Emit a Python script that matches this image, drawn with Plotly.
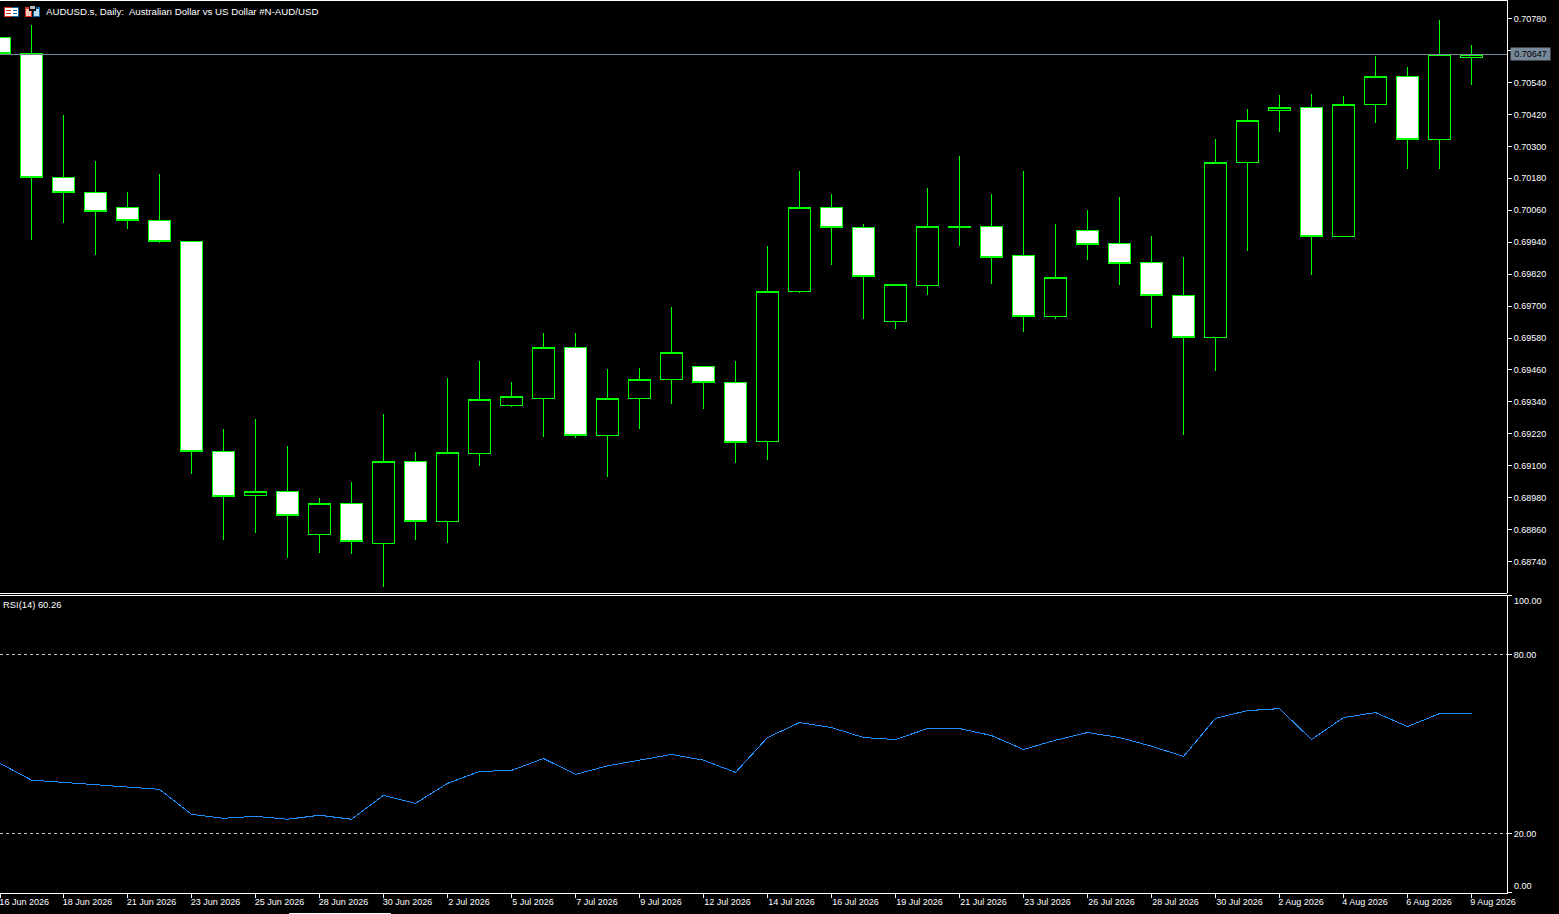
import plotly.graph_objects as go
from plotly.subplots import make_subplots

# bar index for each candle
bars = list(range(47))

opens = [0.70710, 0.70650, 0.70184, 0.70128, 0.70072, 0.70023, 0.69944, 0.69154, 0.68989, 0.69004,
         0.68842, 0.68959, 0.68808, 0.69117, 0.68891, 0.69147, 0.69327, 0.69353, 0.69546, 0.69214,
         0.69353, 0.69425, 0.69474, 0.69414, 0.69192, 0.69755, 0.70072, 0.69996, 0.69643, 0.69778,
         0.69999, 0.70000, 0.69891, 0.69661, 0.69985, 0.69936, 0.69865, 0.69740, 0.69583, 0.70240,
         0.70436, 0.70447, 0.69963, 0.70459, 0.70564, 0.70327, 0.70635]
highs = [0.70736, 0.70755, 0.70417, 0.70244, 0.70128, 0.70195, 0.69944, 0.69237, 0.69274, 0.69173,
         0.68978, 0.69038, 0.69293, 0.69150, 0.69429, 0.69493, 0.69414, 0.69598, 0.69598, 0.69463,
         0.69466, 0.69695, 0.69474, 0.69493, 0.69925, 0.70206, 0.70121, 0.70008, 0.69782, 0.70143,
         0.70263, 0.70121, 0.70206, 0.70008, 0.70060, 0.70109, 0.69963, 0.69883, 0.70327, 0.70440,
         0.70493, 0.70496, 0.70489, 0.70639, 0.70598, 0.70774, 0.70680]
lows = [0.70624, 0.69947, 0.70012, 0.69891, 0.69989, 0.69936, 0.69071, 0.68823, 0.68846, 0.68752,
        0.68774, 0.68767, 0.68643, 0.68820, 0.68808, 0.69098, 0.69320, 0.69210, 0.69203, 0.69056,
        0.69240, 0.69331, 0.69312, 0.69109, 0.69120, 0.69748, 0.69853, 0.69651, 0.69613, 0.69740,
        0.69925, 0.69782, 0.69602, 0.69651, 0.69872, 0.69778, 0.69617, 0.69214, 0.69455, 0.69906,
        0.70353, 0.69816, 0.69959, 0.70387, 0.70214, 0.70214, 0.70530]
closes = [0.70650, 0.70184, 0.70128, 0.70057, 0.70023, 0.69944, 0.69154, 0.68985, 0.69004, 0.68914,
          0.68959, 0.68816, 0.69117, 0.68891, 0.69150, 0.69350, 0.69361, 0.69546, 0.69214, 0.69353,
          0.69425, 0.69527, 0.69414, 0.69188, 0.69755, 0.70072, 0.69996, 0.69812, 0.69782, 0.70000,
          0.69996, 0.69883, 0.69661, 0.69808, 0.69932, 0.69861, 0.69740, 0.69583, 0.70240, 0.70398,
          0.70447, 0.69963, 0.70459, 0.70564, 0.70327, 0.70647, 0.70647]

rsi = [43.58, 37.89, 37.12, 36.32, 35.65, 34.78, 26.42, 25.08, 25.75, 24.75,
       26.09, 24.75, 32.78, 30.10, 36.79, 40.80, 41.14, 45.15, 39.80, 42.68,
       44.58, 46.49, 44.58, 40.47, 52.17, 57.19, 55.52, 52.17, 51.51, 55.18,
       55.18, 52.84, 48.16, 51.27, 53.85, 52.17, 49.26, 45.82, 58.63, 61.20,
       61.87, 51.51, 58.86, 60.54, 55.85, 60.20, 60.26]

price_ticks = [0.70780, 0.70660, 0.70540, 0.70420, 0.70300, 0.70180, 0.70060, 0.69940, 0.69820,
               0.69700, 0.69580, 0.69460, 0.69340, 0.69220, 0.69100, 0.68980, 0.68860, 0.68740]
rsi_ticks = [0.2, 20, 80, 100]
rsi_labels = ['', '20.00', '80.00', '']
date_ticks = [0.02, 2, 4, 6, 8, 10, 12, 14, 16, 18, 20, 22, 24, 26, 28, 30, 32, 34, 36, 38, 40, 42, 44, 46]
date_labels = ['16 Jun 2026', '18 Jun 2026', '21 Jun 2026', '23 Jun 2026', '25 Jun 2026', '28 Jun 2026',
               '30 Jun 2026', '2 Jul 2026', '5 Jul 2026', '7 Jul 2026', '9 Jul 2026', '12 Jul 2026',
               '14 Jul 2026', '16 Jul 2026', '19 Jul 2026', '21 Jul 2026', '23 Jul 2026', '26 Jul 2026',
               '28 Jul 2026', '30 Jul 2026', '2 Aug 2026', '4 Aug 2026', '6 Aug 2026', '9 Aug 2026']

W, H = 1559, 914
FONT = 'Liberation Sans, sans-serif'
AXIS_SIZE = 9
GREEN = '#00FF00'
TAG = '#778899'

fig = make_subplots(rows=2, cols=1, shared_xaxes=True)

fig.add_trace(go.Candlestick(
    x=bars, open=opens, high=highs, low=lows, close=closes,
    whiskerwidth=0, hoverinfo='skip',
    increasing=dict(line=dict(color=GREEN, width=1), fillcolor='#000000'),
    decreasing=dict(line=dict(color=GREEN, width=1), fillcolor='#FFFFFF'),
), row=1, col=1)

fig.add_trace(go.Scatter(x=bars, y=rsi, mode='lines', hoverinfo='skip',
                         line=dict(color='#1E90FF', width=1)), row=2, col=1)

# current price line and RSI levels
fig.add_hline(y=closes[-1], line=dict(color=TAG, width=1), row=1, col=1)
for level in (80, 20):
    fig.add_hline(y=level, line=dict(color='#C0C0C0', width=1, dash='3px,3px'), row=2, col=1)

fig.update_layout(
    width=W, height=H, autosize=False, showlegend=False,
    margin=dict(l=0, r=0, t=0, b=0),
    paper_bgcolor='#000000', plot_bgcolor='#000000',
    font=dict(family=FONT, size=AXIS_SIZE, color='#FFFFFF'),
    boxgap=0.3125, boxgroupgap=0,
)

axis_right = 1507 / W
fig.update_xaxes(range=[0.015625, 47.109], domain=[0, axis_right], showgrid=False, zeroline=False,
                 rangeslider_visible=False, automargin=False)
fig.update_xaxes(showticklabels=False, ticks='', row=1, col=1)
fig.update_xaxes(tickmode='array', tickvals=date_ticks,
                 # figure space keeps one digit days as wide as two digit ones
                 ticktext=[t + '\u2007' if len(t) == 10 else t for t in date_labels],
                 ticks='outside', ticklen=4, tickcolor='#FFFFFF', tickwidth=1, tickangle=0,
                 ticklabelshift=24, ticklabelstandoff=-3, ticklabeloverflow='allow',
                 showline=True, linecolor='#FFFFFF', linewidth=1,
                 row=2, col=1)

fig.update_yaxes(side='right', showgrid=False, zeroline=False, showline=True, linecolor='#FFFFFF',
                 linewidth=1, ticks='outside', ticklen=4, tickcolor='#FFFFFF', tickwidth=1, automargin=False)
fig.update_yaxes(range=[0.68622, 0.70850], domain=[1 - 593 / H, 1], tickmode='array',
                 tickvals=price_ticks, ticktext=[f'{p:.5f}' for p in price_ticks], row=1, col=1)
fig.update_yaxes(range=[0.17, 100], domain=[(H - 892.5) / H, (H - 595) / H], tickmode='array',
                 tickvals=rsi_ticks, ticktext=rsi_labels, row=2, col=1)

# pane borders
for y_px, x_end in ((0.5, axis_right), (593.5, axis_right), (595.5, axis_right)):
    fig.add_shape(type='line', xref='paper', yref='paper', x0=0, x1=x_end,
                  y0=1 - y_px / H, y1=1 - y_px / H, line=dict(color='#FFFFFF', width=1))
# scroll marker along the bottom edge
fig.add_shape(type='rect', xref='paper', yref='paper', x0=289 / W, x1=391 / W, y0=0, y1=1 / H,
              fillcolor='#FFFFFF', line_width=0)

# small window icons in the corner
for x0, x1, y0, y1, c in [(4, 12, 7, 17, '#DD3322'), (12, 19, 7, 17, '#1166AA'),
                          (5, 18, 8, 16, '#FFFFFF'),
                          (6, 11, 10, 11, '#DD3322'), (6, 11, 13, 14, '#DD3322'),
                          (13, 17, 10, 11, '#1166AA'), (13, 17, 13, 14, '#1166AA'),
                          (25, 32, 7, 17, '#DD3322'), (26, 31, 9, 16, '#F5C6B8'),
                          (33, 40, 7, 17, '#1166AA'), (34, 39, 9, 16, '#BBDDF0'),
                          (29, 36, 6, 11, '#000000'), (30, 35, 6, 9, '#BBBBBB')]:
    fig.add_shape(type='rect', xref='paper', yref='paper', x0=x0 / W, x1=x1 / W,
                  y0=1 - y1 / H, y1=1 - y0 / H, fillcolor=c, line_width=0)

fig.add_annotation(text='AUDUSD.s, Daily:  Australian Dollar vs US Dollar #N-AUD/USD',
                   xref='paper', yref='paper', x=44 / W, y=1 - 11 / H, xanchor='left', yanchor='middle',
                   showarrow=False, font=dict(family=FONT, size=9.7, color='#FFFFFF'))
fig.add_annotation(text=f'RSI(14) {rsi[-1]:.2f}',
                   xref='paper', yref='paper', x=1 / W, y=1 - 604 / H, xanchor='left', yanchor='middle',
                   showarrow=False, font=dict(family=FONT, size=9.4, color='#FFFFFF'))

# price tag on the axis
fig.add_annotation(text=f'{closes[-1]:.5f}', xref='paper', yref='y', x=1510 / W, y=closes[-1],
                   xanchor='left', yanchor='middle', showarrow=False, bgcolor=TAG, borderpad=0,
                   width=39, height=12, font=dict(family=FONT, size=AXIS_SIZE, color='#000000'))

# the 0 and 100 labels sit inside the pane
fig.add_annotation(text='100.00', xref='paper', yref='paper', x=1512 / W, y=1 - 600.5 / H,
                   xanchor='left', yanchor='middle', showarrow=False)
fig.add_annotation(text='0.00', xref='paper', yref='paper', x=1512 / W, y=1 - 886 / H,
                   xanchor='left', yanchor='middle', showarrow=False)

# flat edges and no smoothing, like the terminal draws them
page_js = """
document.body.style.margin = '0';
document.body.style.background = '#000';
var st = document.createElement('style');
st.textContent = '.boxlayer path, .scatterlayer path, .shapelayer path {shape-rendering: crispEdges !important;}';
document.head.appendChild(st);
"""

fig.write_html('out.html', config={'displayModeBar': False}, post_script=page_js)
